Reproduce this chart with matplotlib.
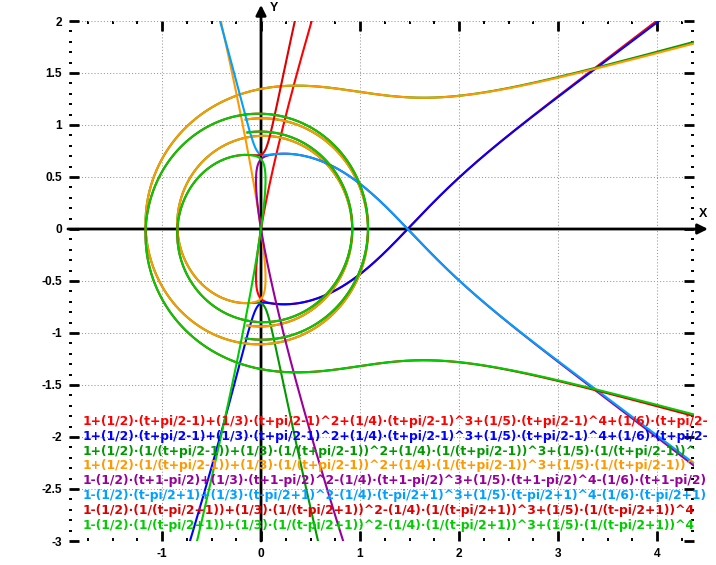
"""
Polar plots of truncated log-type power series, r(t) for t in [-8, 8].
"""

import numpy as np
import matplotlib

matplotlib.use("Agg")  # Headless
import matplotlib.pyplot as plt
from matplotlib.ticker import MultipleLocator, FormatStrFormatter

plt.rcParams["axes.unicode_minus"] = False

# parameter range of t
T_START, T_STOP = -8.0, 8.0

# one entry per curve, in drawing order
COLORS = ["#ff0000", "#0000ff", "#009900", "#ff9900",
          "#990099", "#00a0ff", "#dd0000", "#00cc00"]
SHIFTS = [np.pi / 2 - 1] * 4 + [1 - np.pi / 2] * 4      # t + shift
INVERTED = [False, False, True, True, False, False, True, True]  # 1/(t+shift)
ALTERNATING = [False] * 4 + [True] * 4                  # signs + or +-
TOP_POWER = [21, 22, 22, 21, 21, 22, 22, 21]            # last power of the series

# formula captions, as far as they show before the right edge
LABELS = [
    "1+(1/2)·(t+pi/2-1)+(1/3)·(t+pi/2-1)^2+(1/4)·(t+pi/2-1)^3+(1/5)·(t+pi/2-1)^4+(1/6)·(t+pi/2-",
    "1+(1/2)·(t+pi/2-1)+(1/3)·(t+pi/2-1)^2+(1/4)·(t+pi/2-1)^3+(1/5)·(t+pi/2-1)^4+(1/6)·(t+pi/2-",
    "1+(1/2)·(1/(t+pi/2-1))+(1/3)·(1/(t+pi/2-1))^2+(1/4)·(1/(t+pi/2-1))^3+(1/5)·(1/(t+pi/2-1))^",
    "1+(1/2)·(1/(t+pi/2-1))+(1/3)·(1/(t+pi/2-1))^2+(1/4)·(1/(t+pi/2-1))^3+(1/5)·(1/(t+pi/2-1))^",
    "1-(1/2)·(t+1-pi/2)+(1/3)·(t+1-pi/2)^2-(1/4)·(t+1-pi/2)^3+(1/5)·(t+1-pi/2)^4-(1/6)·(t+1-pi/2)",
    "1-(1/2)·(t-pi/2+1)+(1/3)·(t-pi/2+1)^2-(1/4)·(t-pi/2+1)^3+(1/5)·(t-pi/2+1)^4-(1/6)·(t-pi/2+1)",
    "1-(1/2)·(1/(t-pi/2+1))+(1/3)·(1/(t-pi/2+1))^2-(1/4)·(1/(t-pi/2+1))^3+(1/5)·(1/(t-pi/2+1))^4",
    "1-(1/2)·(1/(t-pi/2+1))+(1/3)·(1/(t-pi/2+1))^2-(1/4)·(1/(t-pi/2+1))^3+(1/5)·(1/(t-pi/2+1))^4",
]

X_LIM = (-1.9394, 4.3737)
Y_LIM = (-3.0, 2.0)


def series_r(t, shift, inverted, alternating, top):
    with np.errstate(divide="ignore", over="ignore", invalid="ignore"):
        x = t + shift
        if inverted:
            x = 1.0 / x
        if alternating:
            x = -x
        r = np.zeros_like(t)
        for n in range(top + 1):
            r = r + x ** n / (n + 1)
    r[~np.isfinite(r) | (np.abs(r) > 60)] = np.nan
    return r


def main() -> int:
    W, H = 716, 565
    fig = plt.figure(figsize=(W / 100, H / 100), dpi=100)
    fig.patch.set_facecolor("white")
    ax = fig.add_axes([69 / W, 1 - 541 / H, (694 - 69) / W, (541 - 21) / H])
    ax.set_xlim(*X_LIM)
    ax.set_ylim(*Y_LIM)
    for s in ax.spines.values():
        s.set_visible(False)

    ax.xaxis.set_major_locator(MultipleLocator(1))
    ax.xaxis.set_minor_locator(MultipleLocator(0.25))
    ax.yaxis.set_major_locator(MultipleLocator(0.5))
    ax.yaxis.set_minor_locator(MultipleLocator(0.1))
    ax.xaxis.set_major_formatter(FormatStrFormatter("%g"))
    ax.yaxis.set_major_formatter(FormatStrFormatter("%g"))
    ax.tick_params(which="both", direction="in", top=True, right=True, color="black")
    ax.tick_params(which="major", length=7.2, width=2, pad=5)
    ax.tick_params(which="minor", length=2.4, width=1.4)
    for lab in ax.get_xticklabels() + ax.get_yticklabels():
        lab.set_fontfamily("Liberation Sans")
        lab.set_fontweight("bold")
        lab.set_fontsize(8.6)

    ax.grid(which="major", color="#999999", linestyle=(0, (1, 2)), linewidth=0.75, zorder=0)
    ax.set_axisbelow(True)

    # coordinate axes with arrow heads
    arrow = dict(arrowstyle="-|>", lw=2, color="black", mutation_scale=15,
                 shrinkA=0, shrinkB=0)
    ax.annotate("", xy=(4.515, 0), xytext=(-1.95, 0), arrowprops=arrow,
                annotation_clip=False, zorder=1)
    ax.annotate("", xy=(0, 2.155), xytext=(0, -3.0), arrowprops=arrow,
                annotation_clip=False, zorder=1)
    fig.text(703 / W, 1 - 214 / H, "X", ha="center", va="center",
             fontsize=9, fontweight="bold", family="Liberation Sans")
    fig.text(274 / W, 1 - 8 / H, "Y", ha="center", va="center",
             fontsize=9, fontweight="bold", family="Liberation Sans")

    t = np.linspace(T_START, T_STOP, 32001)
    for color, shift, inv, alt, top in zip(COLORS, SHIFTS, INVERTED, ALTERNATING, TOP_POWER):
        r = series_r(t, shift, inv, alt, top)
        ax.plot(r * np.cos(t), r * np.sin(t), color=color, lw=1.5, zorder=3)

    # formula captions over the lower part of the plot
    y0, dy = 421.5, 14.8
    for i, (label, color) in enumerate(zip(LABELS, COLORS)):
        fig.text(83 / W, 1 - (y0 + i * dy) / H, label, color=color, ha="left",
                 va="center", fontsize=8.95, fontweight="bold", family="DejaVu Sans",
                 zorder=5)

    fig.savefig("out.png", dpi=100, facecolor="white")
    plt.close(fig)
    return 0


if __name__ == "__main__":
    raise SystemExit(main())
